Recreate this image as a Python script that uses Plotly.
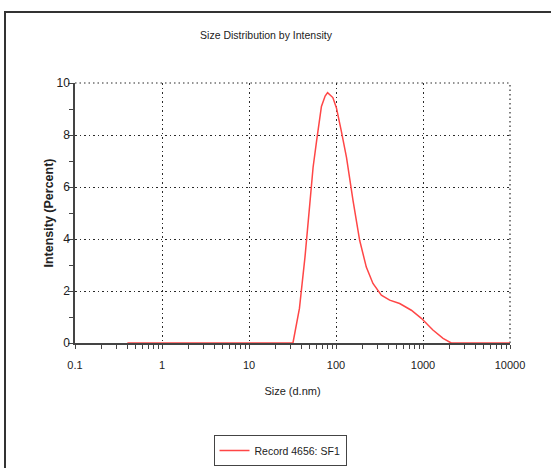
import plotly.graph_objects as go

# Data
sizes_nm = [0.4, 1, 10, 32, 38, 44, 50, 54.5, 60, 68, 75, 80, 92, 101, 115, 132,
            157, 187, 223, 266, 332, 414, 539, 734, 957, 1300, 1700, 2110, 5000, 10000]
intensity_pct = [0, 0, 0, 0, 1.33, 3.3, 5.35, 6.75, 7.8, 9.1, 9.5, 9.63, 9.44, 9.05, 8.16, 7.14,
                 5.48, 3.95, 2.92, 2.29, 1.84, 1.65, 1.52, 1.26, 0.95, 0.5, 0.18, 0, 0, 0]
series_name = "Record 4656: SF1"
x_ticks = [0.1, 1, 10, 100, 1000, 10000]
x_tick_labels = ["0.1", "1", "10", "100", "1000", "10000"]
y_ticks = [0, 2, 4, 6, 8, 10]

W, H = 551, 468
L, R, T, B = 75, 41, 83, 125
pw, ph = W - L - R, H - T - B

def px2paper_x(px):
    return (px - L) / pw

def px2paper_y(py):
    return (H - B - py) / ph

sans = "Liberation Sans, Arial, sans-serif"
grid_dash = "1.5px,3px"
grid_col = "#2a2a2a"

fig = go.Figure()
fig.add_trace(go.Scatter(
    x=sizes_nm, y=intensity_pct, mode="lines", name=series_name,
    line=dict(color="#ff4646", width=1.5), showlegend=True,
))

fig.update_layout(
    width=W, height=H,
    margin=dict(l=L, r=R, t=T, b=B, autoexpand=False),
    paper_bgcolor="white", plot_bgcolor="white",
    font=dict(family=sans, size=11, color="#222"),
    title=dict(text="Size Distribution by Intensity", x=266 / W, xanchor="center",
               y=1 - 35 / H, yanchor="middle", font=dict(family=sans, size=10.5, color="#222")),
    xaxis=dict(
        type="log", range=[-1, 4],
        tickvals=x_ticks, ticktext=x_tick_labels,
        showline=True, linecolor="#444", linewidth=1.5,
        ticks="outside", ticklen=2, tickcolor="#444",
        showgrid=True, gridcolor=grid_col, griddash=grid_dash, gridwidth=1.2,
        zeroline=False, layer="below traces",
        minor=dict(ticks="outside", ticklen=4, tickcolor="#444", showgrid=False,
                   dtick="D1"),
        title=dict(text="Size (d.nm)", font=dict(family=sans, size=11), standoff=17),
        tickfont=dict(family=sans, size=11),
        ticklabelstandoff=9,
    ),
    yaxis=dict(
        range=[0, 10], tickvals=y_ticks,
        showline=True, linecolor="#444", linewidth=1.5,
        ticks="outside", ticklen=5, tickcolor="#444",
        showgrid=True, gridcolor=grid_col, griddash=grid_dash, gridwidth=1.2,
        zeroline=False, layer="below traces",
        minor=dict(ticks="outside", ticklen=4, tickcolor="#444", dtick=1, showgrid=False),
        title=dict(text="<b>Intensity (Percent)</b>",
                   font=dict(family=sans, size=12.5), standoff=0),
        tickfont=dict(family=sans, size=12),
        ticklabelstandoff=-4,
    ),
    legend=dict(
        x=px2paper_x(280), xanchor="center", y=px2paper_y(435), yanchor="top",
        bordercolor="#444", borderwidth=1, bgcolor="white",
        font=dict(family=sans, size=10.5),
        itemwidth=30,
    ),
    showlegend=True,
)

# gridlines at the upper range edges (plotly hides those)
fig.add_shape(type="line", xref="paper", yref="paper", x0=0, x1=1, y0=1, y1=1,
              line=dict(color=grid_col, width=1.2, dash=grid_dash), layer="below")
fig.add_shape(type="line", xref="paper", yref="paper", x0=1, x1=1, y0=0, y1=1,
              line=dict(color=grid_col, width=1.2, dash=grid_dash), layer="below")

# outer frame
fig.add_shape(type="rect", xref="paper", yref="paper",
              x0=px2paper_x(5), x1=px2paper_x(W + 20),
              y0=px2paper_y(H + 20), y1=px2paper_y(12),
              line=dict(color="#333", width=2), layer="below")

fig.write_html("out.html")
